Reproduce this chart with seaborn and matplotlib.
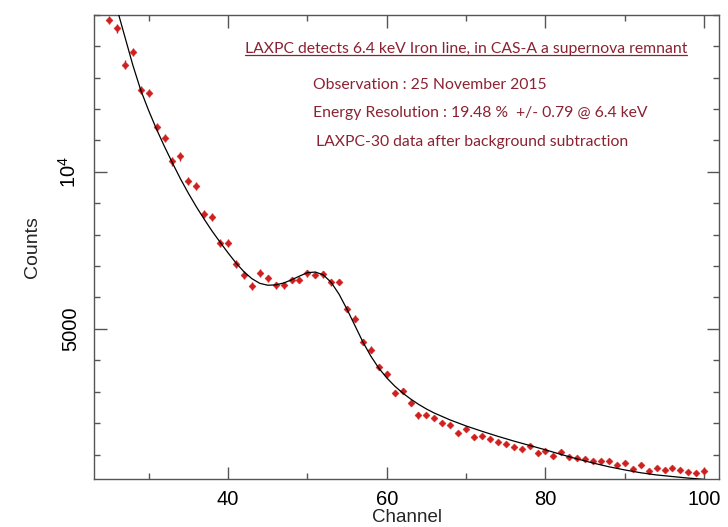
import numpy as np
import pandas as pd
import matplotlib
matplotlib.use("Agg")
import matplotlib.pyplot as plt
import seaborn as sns
from matplotlib.ticker import MultipleLocator, FixedLocator

# data points (channel, counts)
channels = list(range(25, 101))
counts = [14830, 14565, 13415, 13808, 12608, 12522, 11414, 11076, 10329, 10488,
          9703, 9544, 8650, 8554, 7743, 7743, 7063, 6712, 6371, 6766,
          6607, 6383, 6383, 6553, 6553, 6766, 6712, 6735, 6479, 6498,
          5627, 5330, 4583, 4341, 3785, 3552, 2955, 3019, 2636, 2243,
          2266, 2170, 2014, 1956, 1685, 1819, 1551, 1605, 1500, 1414,
          1350, 1244, 1181, 1286, 1040, 1126, 944, 1085, 935, 893,
          861, 785, 785, 797, 657, 743, 542, 670, 466, 561,
          510, 561, 520, 456, 414, 466]
errors = [130] * 20 + [100] * 20 + [60] * 36

# fitted model curve
model_ch = [25, 26, 27, 28, 29, 30, 31, 32, 33, 34, 35, 36, 37, 38, 39, 40,
            41, 42, 43, 44, 45, 46, 47, 48, 49, 50, 51, 52, 53, 54, 55, 56,
            57, 58, 59, 60, 61, 62, 63, 64, 65, 66, 68, 70, 72, 74, 76, 78,
            80, 82, 84, 86, 88, 90, 92, 94, 96, 98, 100]
model_counts = [16200, 15200, 14300, 13400, 12600, 11950, 11350, 10800, 10280, 9780,
                9320, 8890, 8490, 8110, 7760, 7420, 7100, 6820, 6600, 6450,
                6390, 6400, 6460, 6560, 6680, 6790, 6810, 6720, 6480, 6100,
                5620, 5100, 4580, 4130, 3750, 3440, 3180, 2960, 2770, 2600,
                2450, 2320, 2100, 1910, 1740, 1580, 1430, 1290, 1150, 1000,
                860, 730, 610, 510, 420, 350, 300, 250, 210]

title_line = "LAXPC detects 6.4 keV Iron line, in CAS-A a supernova remnant"
info_lines = ["Observation : 25 November 2015",
              "Energy Resolution : 19.48 %  +/- 0.79 @ 6.4 keV",
              "LAXPC-30 data after background subtraction"]

df = pd.DataFrame({"channel": channels, "counts": counts, "err": errors})
model = pd.DataFrame({"channel": model_ch, "counts": model_counts})

sns.set_style("ticks")
plt.rcParams["font.family"] = ["Liberation Sans", "DejaVu Sans"]

fig = plt.figure(figsize=(7.28, 5.27), dpi=100)
ax = fig.add_axes([0.129, 0.091, 0.859, 0.881])

red = "#d01f1f"
ax.errorbar(df["channel"], df["counts"], yerr=df["err"], fmt="none",
            ecolor=red, elinewidth=1.0, capsize=0, zorder=2)
sns.scatterplot(data=df, x="channel", y="counts", ax=ax, color=red,
                marker="D", s=13, edgecolor=red, linewidth=0.3, zorder=3)
sns.lineplot(data=model, x="channel", y="counts", ax=ax, color="black",
             linewidth=0.9, zorder=4)

ax.set_xlim(23.1, 101.9)
ax.set_ylim(220, 15000)

ax.xaxis.set_major_locator(MultipleLocator(20))
ax.xaxis.set_minor_locator(MultipleLocator(10))
ax.yaxis.set_major_locator(FixedLocator([5000, 10000]))
ax.yaxis.set_minor_locator(MultipleLocator(1000))
ax.set_yticklabels(["5000", r"$\mathregular{10^4}$"], rotation=90, va="center")

ax.tick_params(which="both", direction="in", top=True, right=True,
               colors="#555555", labelcolor="black", labelsize=14.5)
ax.tick_params(which="major", length=9, width=1, pad=8)
ax.tick_params(which="minor", length=4.5, width=1)
ax.tick_params(axis="y", pad=10)
for s in ax.spines.values():
    s.set_color("#555555")
    s.set_linewidth(1)

ax.set_xlabel("Channel", fontsize=13.5, labelpad=0)
ax.set_ylabel("Counts", fontsize=14, labelpad=12)

txt_color = "#8b2232"
t = ax.text(245 / 728, 1 - 49 / 527, title_line, transform=fig.transFigure,
            fontsize=11.3, color=txt_color, family=["Lato", "DejaVu Sans"],
            va="center", ha="left")
ys = [85, 113, 142]
xs = [313, 313, 316]
for line, x, y in zip(info_lines, xs, ys):
    fig.text(x / 728, 1 - y / 527, line, fontsize=11.3, color=txt_color,
             family=["Lato", "DejaVu Sans"], va="center", ha="left")

# underline the headline
fig.canvas.draw()
bb = t.get_window_extent(fig.canvas.get_renderer())
bb = bb.transformed(fig.transFigure.inverted())
fig.add_artist(plt.Line2D([bb.x0, bb.x1], [bb.y0 + 0.002, bb.y0 + 0.002],
                          transform=fig.transFigure, color=txt_color, lw=0.9))

fig.savefig("out.png", dpi=100)
